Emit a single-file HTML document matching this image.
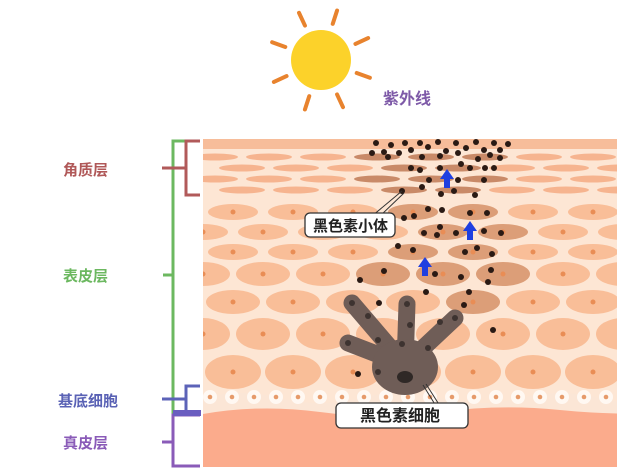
<!DOCTYPE html>
<html><head><meta charset="utf-8"><style>
html,body{margin:0;padding:0;background:#fff;width:640px;height:472px;overflow:hidden}
svg{display:block}
text{font-family:"Liberation Sans","Noto Sans CJK SC",sans-serif;font-weight:bold}
</style></head><body>
<svg id="s" width="640" height="472" viewBox="0 0 640 472" xmlns="http://www.w3.org/2000/svg">
<defs><clipPath id="c"><rect x="203" y="139" width="414" height="328"/></clipPath></defs>
<g stroke="#e8832e" stroke-width="4" stroke-linecap="round" id="rays"></g>
<circle cx="321" cy="60" r="30" fill="#fcd22a"/>
<text x="383" y="104" font-size="16" fill="#7e5aa8">紫外线</text>
<g clip-path="url(#c)" id="skin">
<rect x="203" y="139" width="414" height="328" fill="#fde6d4"/>
<rect x="203" y="139" width="414" height="10" fill="#f7bd9a"/>
</g>
<g fill="none" stroke-width="3">
<path d="M200 141H173V413H200" stroke="#6cb860"/>
<path d="M163 275H173" stroke="#6cb860"/>
<path d="M200 141H186V195H200M162 168H186" stroke="#b15a5a"/>
<path d="M200 386H186V412H200M162 399H186" stroke="#5c63b8"/>
<path d="M200 415H173V466H200M162 442H173" stroke="#8a5bb8"/>
</g>
<rect x="173" y="410" width="28" height="6" fill="#6a5dc0"/>
<text x="63" y="175" font-size="15" fill="#b05858">角质层</text>
<text x="63" y="281" font-size="15" fill="#6cb860">表皮层</text>
<text x="58" y="406" font-size="15" fill="#5a62b5">基底细胞</text>
<text x="63" y="448" font-size="15" fill="#8a5bb8">真皮层</text>
</svg>
<script>
const NS="http://www.w3.org/2000/svg",sk=document.getElementById('skin');
function el(t,a,p){const e=document.createElementNS(NS,t);for(const k in a)e.setAttribute(k,a[k]);(p||sk).appendChild(e);return e}
const rg=document.getElementById('rays');
[-115,-72,-25,20,65,108,155,200].forEach(a=>{const r=a*Math.PI/180;el('line',{x1:321+38*Math.cos(r),y1:60+38*Math.sin(r),x2:321+52*Math.cos(r),y2:60+52*Math.sin(r)},rg)});
// corneum rows
[[157,0],[168,27],[179,0],[190,27]].forEach(([y,o])=>{for(let x=215+o;x<660;x+=54){const d=x>375&&x<510;el('ellipse',{cx:x,cy:y,rx:23,ry:3.5,fill:d?'#c98a68':'#f6b48f'})}});
// epidermis rows: y, rx, ry, offset, dark centres
const rows=[[212,25,8,0,[413,473]],[232,25,8,30,[443,503]],[252,25,8,0,[413,473]],[274,27,12,30,[383,443,503]],[302,27,12,0,[473]],[334,27,16,30,[]],[372,28,17,0,[]]];
rows.forEach(([y,rx,ry,o,dk])=>{for(let x=233-60+o;x<680;x+=60){const d=dk.includes(x);el('ellipse',{cx:x,cy:y,rx:rx,ry:ry,fill:d?'#dc9e78':'#f9be98'});el('circle',{cx:x,cy:y,r:2.5,fill:'#e98d55'})}});
// basal layer
el('path',{d:'M203 398 Q240 388 280 398 T360 398 T440 398 T520 398 T600 398 T680 398 V472 H203Z',fill:'#fbe6d6'});
for(let x=210;x<620;x+=22){const y=400+(x%44?-3:4);el('circle',{cx:x,cy:y,r:7,fill:'#fff8f2'});el('circle',{cx:x,cy:y,r:2.3,fill:'#e69a6a'})}
el('path',{d:'M203 414 Q260 404 320 412 T440 412 T560 410 T680 412 V472 H203Z',fill:'#fbab8c'});
const dots=[[376,143],[384,152],[391,145],[399,153],[405,143],[411,150],[420,143],[428,147],[438,142],[446,151],[456,143],[466,148],[476,142],[484,150],[494,143],[500,150],[508,144],[372,153],[388,157],[422,157],[440,156],[458,153],[478,159],[490,155],[500,158],[411,168],[420,170],[440,168],[461,164],[470,168],[485,168],[429,180],[458,180],[484,180],[402,191],[422,187],[441,194],[454,191],[475,195],[414,216],[428,209],[442,210],[470,213],[487,213],[404,218],[440,227],[424,233],[437,235],[456,233],[484,231],[501,233],[398,246],[413,250],[465,252],[477,248],[492,254],[384,271],[435,274],[461,277],[491,270],[488,282],[360,280],[426,292],[469,292],[379,303],[464,305],[493,330],[494,168],[405,303],[386,357],[358,374]];
dots.forEach(([x,y])=>el('circle',{cx:x,cy:y,r:3,fill:'#2a1a14'}));
[[447,188],[470,240],[425,276]].forEach(([x,y])=>el('path',{d:`M${x-3} ${y} V${y-9} H${x-7} L${x} ${y-19} L${x+7} ${y-9} H${x+3} V${y}Z`,fill:'#1f3fe0'}));
const g=el('g',{});
[[352,303],[407,304],[455,318],[348,343]].forEach(([x,y])=>el('line',{x1:405,y1:365,x2:x,y2:y,stroke:'#6f5d57','stroke-width':17,'stroke-linecap':'round'},g));
el('ellipse',{cx:405,cy:367,rx:33,ry:28,fill:'#6f5d57'},g);
[[352,303],[407,304],[455,318],[348,343],[368,316],[410,325],[378,340],[402,344],[428,348],[440,322],[378,372]].forEach(([x,y])=>el('circle',{cx:x,cy:y,r:3,fill:'#3d3330'},g));
el('ellipse',{cx:405,cy:377,rx:8,ry:6,fill:'#2f2826'},g);
const s=document.getElementById('s');
el('path',{d:'M372 216 L402 191 M378 218 L404 193',stroke:'#333','stroke-width':1,fill:'none'},s);
el('path',{d:'M423 385 L436 406 M426 384 L440 406',stroke:'#333','stroke-width':1,fill:'none'},s);
el('rect',{x:305,y:213,width:90,height:24,rx:5,fill:'#fff',stroke:'#333','stroke-width':1.3},s);
el('text',{x:313,y:231,'font-size':15,fill:'#222'},s).textContent='黑色素小体';
el('rect',{x:336,y:403,width:132,height:25,rx:5,fill:'#fff',stroke:'#333','stroke-width':1.3},s);
el('text',{x:360,y:421,'font-size':16,fill:'#222'},s).textContent='黑色素细胞';
</script>
</body></html>
